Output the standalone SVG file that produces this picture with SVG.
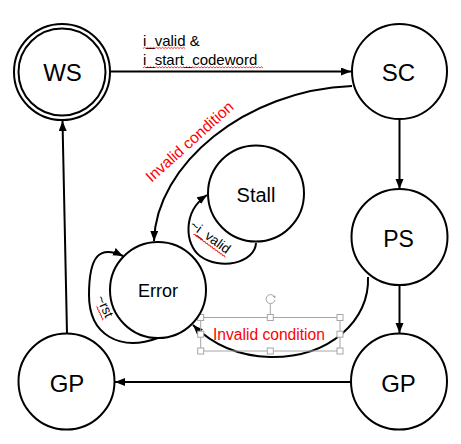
<svg xmlns="http://www.w3.org/2000/svg" width="461" height="444" viewBox="0 0 461 444">
<defs>
<marker id="ah" markerUnits="userSpaceOnUse" markerWidth="11" markerHeight="9" refX="10" refY="4" orient="auto">
<path d="M0,0 L10,4 L0,8 z" fill="#000"/>
</marker>
<style>
.node{fill:#fff;stroke:#000;stroke-width:2}
.lbl{font-family:"Liberation Sans",Arial,sans-serif;fill:#000;text-anchor:middle}
.edge{fill:none;stroke:#000;stroke-width:2;marker-end:url(#ah)}
.t{font-family:"Liberation Sans",Arial,sans-serif;fill:#000}
.red{font-family:"Liberation Sans",Arial,sans-serif;fill:#ff0000}
.sq{fill:none;stroke:#ff0000;stroke-width:0.8}
.box{fill:none;stroke:#a6a6a6;stroke-width:1}
.hdl{fill:#fff;stroke:#a6a6a6;stroke-width:1}
</style>
</defs>
<rect width="461" height="444" fill="#fff"/>

<g id="connectors">
<line class="edge" x1="110" y1="71.5" x2="351" y2="71.5"/>
<line class="edge" x1="399.5" y1="119.5" x2="399.5" y2="189"/>
<line class="edge" x1="399.5" y1="285.5" x2="399.5" y2="333"/>
<line class="edge" x1="351" y1="382" x2="115" y2="382"/>
<line class="edge" x1="67" y1="333.5" x2="62.5" y2="121"/>
<path class="edge" d="M352,86 C245,90 156,165 154,241"/>
<path class="edge" d="M256,243 C255,263 220,271 200,256 C185,245 182,212 207,195"/>
<path class="edge" d="M158,338 C120,352 89,335 89,295 C89,255 100,245 123,256"/>
<path class="edge" d="M368,277 C370,320 330,358 270,357 C235,356 210,342 193,325"/>
</g>

<g id="edge-labels">
<text class="t" x="143" y="45.5" font-size="15">i_valid &amp;</text>
<path class="sq" d="M143,48.5 l1.5,-1.2 l1.5,1.2 l1.5,-1.2 l1.5,1.2 l1.5,-1.2 l1.5,1.2 l1.5,-1.2 l1.5,1.2 l1.5,-1.2 l1.5,1.2 l1.5,-1.2 l1.5,1.2 l1.5,-1.2 l1.5,1.2 l1.5,-1.2 l1.5,1.2 l1.5,-1.2 l1.5,1.2 l1.5,-1.2 l1.5,1.2 l1.5,-1.2 l1.5,1.2 l1.5,-1.2 l1.5,1.2 l1.5,-1.2 l1.5,1.2 l1.5,-1.2 l1.5,1.2"/>
<text class="t" x="143" y="65" font-size="15">i_start_codeword</text>
<path class="sq" d="M143,68 l1.5,-1.2 l1.5,1.2 l1.5,-1.2 l1.5,1.2 l1.5,-1.2 l1.5,1.2 l1.5,-1.2 l1.5,1.2 l1.5,-1.2 l1.5,1.2 l1.5,-1.2 l1.5,1.2 l1.5,-1.2 l1.5,1.2 l1.5,-1.2 l1.5,1.2 l1.5,-1.2 l1.5,1.2 l1.5,-1.2 l1.5,1.2 l1.5,-1.2 l1.5,1.2 l1.5,-1.2 l1.5,1.2 l1.5,-1.2 l1.5,1.2 l1.5,-1.2 l1.5,1.2 l1.5,-1.2 l1.5,1.2 l1.5,-1.2 l1.5,1.2 l1.5,-1.2 l1.5,1.2 l1.5,-1.2 l1.5,1.2 l1.5,-1.2 l1.5,1.2 l1.5,-1.2 l1.5,1.2 l1.5,-1.2 l1.5,1.2 l1.5,-1.2 l1.5,1.2 l1.5,-1.2 l1.5,1.2 l1.5,-1.2 l1.5,1.2 l1.5,-1.2 l1.5,1.2 l1.5,-1.2 l1.5,1.2 l1.5,-1.2 l1.5,1.2 l1.5,-1.2 l1.5,1.2 l1.5,-1.2 l1.5,1.2 l1.5,-1.2 l1.5,1.2 l1.5,-1.2 l1.5,1.2 l1.5,-1.2 l1.5,1.2 l1.5,-1.2 l1.5,1.2 l1.5,-1.2 l1.5,1.2 l1.5,-1.2 l1.5,1.2 l1.5,-1.2 l1.5,1.2 l1.5,-1.2 l1.5,1.2 l1.5,-1.2 l1.5,1.2 l1.5,-1.2 l1.5,1.2 l1.5,-1.2 l1.5,1.2"/>

<text class="red" font-size="15.6" transform="translate(151.5,183) rotate(-42)">Invalid condition</text>

<g transform="translate(189,227) rotate(36)">
<text class="t" x="0" y="0" font-size="13.5">~i_valid</text>
<path class="sq" d="M8,3.5 l1.5,-1.2 l1.5,1.2 l1.5,-1.2 l1.5,1.2 l1.5,-1.2 l1.5,1.2 l1.5,-1.2 l1.5,1.2 l1.5,-1.2 l1.5,1.2 l1.5,-1.2 l1.5,1.2 l1.5,-1.2 l1.5,1.2 l1.5,-1.2 l1.5,1.2 l1.5,-1.2 l1.5,1.2 l1.5,-1.2 l1.5,1.2 l1.5,-1.2 l1.5,1.2 l1.5,-1.2 l1.5,1.2 l1.5,-1.2 l1.5,1.2"/>
</g>

<g transform="translate(96,298) rotate(65)">
<text class="t" x="0" y="0" font-size="13.5">~rst</text>
<path class="sq" d="M8,3.5 l1.5,-1.2 l1.5,1.2 l1.5,-1.2 l1.5,1.2 l1.5,-1.2 l1.5,1.2 l1.5,-1.2 l1.5,1.2 l1.5,-1.2 l1.5,1.2"/>
</g>

<g id="textbox">
<rect class="box" x="200.7" y="317.5" width="139.3" height="33.5"/>
<line class="box" x1="270.3" y1="304" x2="270.3" y2="317.5"/>
<path class="box" d="M274.3,296.6 A4.5,4.5 0 1 0 275,299.8"/>
<path d="M272.5,296.2 L275.6,295.6 L275.2,298.6 z" fill="#a6a6a6"/>
<rect class="hdl" x="197.7" y="314.5" width="6" height="6"/>
<rect class="hdl" x="267.3" y="314.5" width="6" height="6"/>
<rect class="hdl" x="337" y="314.5" width="6" height="6"/>
<rect class="hdl" x="197.7" y="331.2" width="6" height="6"/>
<rect class="hdl" x="337" y="331.2" width="6" height="6"/>
<rect class="hdl" x="197.7" y="348" width="6" height="6"/>
<rect class="hdl" x="267.3" y="348" width="6" height="6"/>
<rect class="hdl" x="337" y="348" width="6" height="6"/>
<text class="red" x="213" y="340" font-size="15.6">Invalid condition</text>
</g>
</g>

<g id="WS">
<circle class="node" cx="62" cy="72" r="48"/>
<circle class="node" cx="62" cy="72" r="43.5"/>
<text class="lbl" x="62.5" y="81" font-size="24">WS</text>
</g>
<g id="SC">
<circle class="node" cx="399.5" cy="71.5" r="47.5"/>
<text class="lbl" x="398.5" y="81" font-size="24">SC</text>
</g>
<g id="Stall">
<circle class="node" cx="256" cy="193.5" r="48"/>
<text class="lbl" x="256" y="202" font-size="20">Stall</text>
</g>
<g id="PS">
<circle class="node" cx="399.5" cy="237" r="48"/>
<text class="lbl" x="398.5" y="247" font-size="23">PS</text>
</g>
<g id="Error">
<circle class="node" cx="158" cy="290" r="48"/>
<text class="lbl" x="158" y="297" font-size="18">Error</text>
</g>
<g id="GP-right">
<circle class="node" cx="399" cy="381.5" r="48"/>
<text class="lbl" x="398.5" y="391.5" font-size="24">GP</text>
</g>
<g id="GP-left">
<circle class="node" cx="66.5" cy="381.5" r="48"/>
<text class="lbl" x="67" y="391.5" font-size="24">GP</text>
</g>
</svg>
